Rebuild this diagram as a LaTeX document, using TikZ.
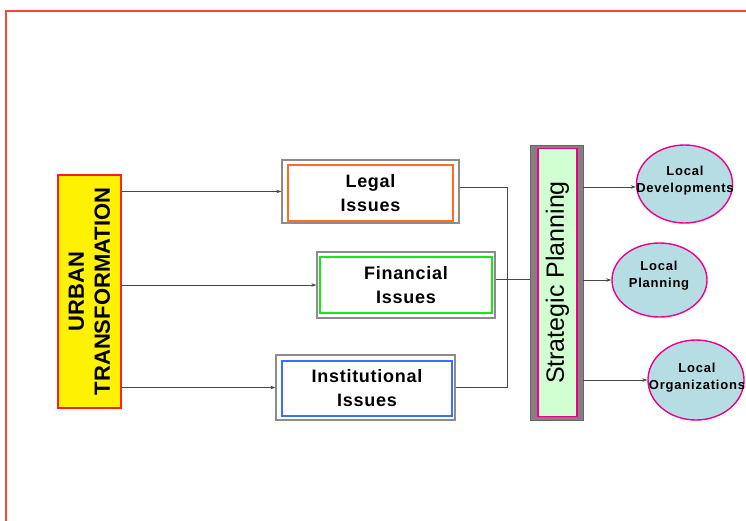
\documentclass[tikz,border=0pt]{standalone}
\usepackage{fontspec}
\setmainfont{Liberation Sans}
\usetikzlibrary{arrows.meta,shapes.geometric}
\definecolor{framered}{RGB}{255,64,64}
\definecolor{urbred}{RGB}{255,30,30}
\definecolor{orangeb}{RGB}{255,110,30}
\definecolor{greenb}{RGB}{20,235,20}
\definecolor{blueb}{RGB}{60,110,255}
\definecolor{stratgray}{RGB}{135,125,130}
\definecolor{stratfill}{RGB}{210,255,210}
\definecolor{ellfill}{RGB}{183,221,228}
\definecolor{conn}{RGB}{70,70,70}
\tikzset{
  outerbox/.style={draw=black!45, line width=1.3pt, fill=white, inner sep=0pt},
  innerbox/.style={draw=#1, line width=1.4pt, fill=white, inner sep=0pt},
  boxtext/.style={font=\fontsize{18}{24}\selectfont\bfseries\addfontfeature{LetterSpace=4}, align=center, inner sep=0pt},
  ell/.style={ellipse, draw=magenta, line width=1.4pt, fill=ellfill, inner sep=0pt},
  elltext/.style={font=\fontsize{13}{17}\selectfont\bfseries\addfontfeature{LetterSpace=6}, align=center, inner sep=0pt},
  conline/.style={draw=conn, line width=0.7pt},
  conarrow/.style={conline, -{Stealth[length=5pt,width=3.5pt]}},
}
\begin{document}
\begin{tikzpicture}[x=1pt,y=-1pt]
\useasboundingbox (0,0) rectangle (746,520);
% frame
\draw[framered, line width=2pt] (6,521) -- (6,11) -- (747,11);

% urban
\node[draw=urbred, line width=1.4pt, fill=yellow, minimum width=63pt, minimum height=233pt, inner sep=0pt] (urban) at (89.5,291.5) {};
\node[rotate=90, font=\fontsize{22}{26}\selectfont\bfseries, align=center, inner sep=0pt] (urbantext) at (urban.center) {URBAN\\TRANSFORMATION};

% issue boxes
\node[outerbox, minimum width=177pt, minimum height=63pt] (legalO) at (370.5,191.5) {};
\node[innerbox=orangeb, minimum width=165pt, minimum height=56pt] (legal) at (370.5,193) {};
\node[boxtext] (legaltext) at (legal.center) {Legal\\Issues};

\node[outerbox, minimum width=178pt, minimum height=66pt] (finO) at (406,285) {};
\node[innerbox=greenb, minimum width=172pt, minimum height=56pt] (fin) at (406,285) {};
\node[boxtext] (fintext) at (fin.center) {Financial\\Issues};

\node[outerbox, minimum width=179pt, minimum height=65pt] (instO) at (365.5,387.5) {};
\node[innerbox=blueb, minimum width=170pt, minimum height=55pt] (inst) at (367,388.5) {};
\node[boxtext] (insttext) at (inst.center) {Institutional\\Issues};

% strategic planning
\node[draw=black!60, line width=0.8pt, fill=stratgray, minimum width=53pt, minimum height=275pt, inner sep=0pt] (stratO) at (556.5,282.5) {};
\node[draw=magenta, line width=1.4pt, fill=stratfill, minimum width=39pt, minimum height=268pt, inner sep=0pt] (strat) at (557.5,282.5) {};
\node[rotate=90, font=\fontsize{25}{30}\selectfont, inner sep=0pt] (strattext) at (strat.center) {Strategic Planning};

% ellipses
\node[ell, minimum width=96pt, minimum height=78pt] (dev) at (684.5,184) {};
\node[elltext] (devtext) at (685,181) {Local\\Developments};
\node[ell, minimum width=95pt, minimum height=74pt] (plan) at (659.5,280) {};
\node[elltext] (plantext) at (659,276) {Local\\Planning};
\node[ell, minimum width=96pt, minimum height=80pt] (org) at (696,380) {};
\node[elltext] (orgtext) at (697,378) {Local\\Organizations};

% connectors from urban
\draw[conarrow] (urban.east |- legalO.west) -- (legalO.west);
\draw[conarrow] (urban.east |- finO.west) -- (finO.west);
\draw[conarrow] (urban.east |- instO.west) -- (instO.west);

% junction
\coordinate (jt) at (507,187);
\coordinate (jb) at (507,387);
\draw[conline] (legalO.east |- jt) -- (jt) -- (jb) -- (instO.east |- jb);
\draw[conline] ([yshift=6pt]finO.east) -- ([yshift=6pt]finO.east -| stratO.west);

% strategic to outputs
\draw[conarrow] (stratO.east |- 0,187) -- (dev.west |- 0,187);
\draw[conarrow] (stratO.east |- plan.west) -- (plan.west);
\draw[conarrow] (stratO.east |- org.west) -- (org.west);
\end{tikzpicture}
\end{document}
